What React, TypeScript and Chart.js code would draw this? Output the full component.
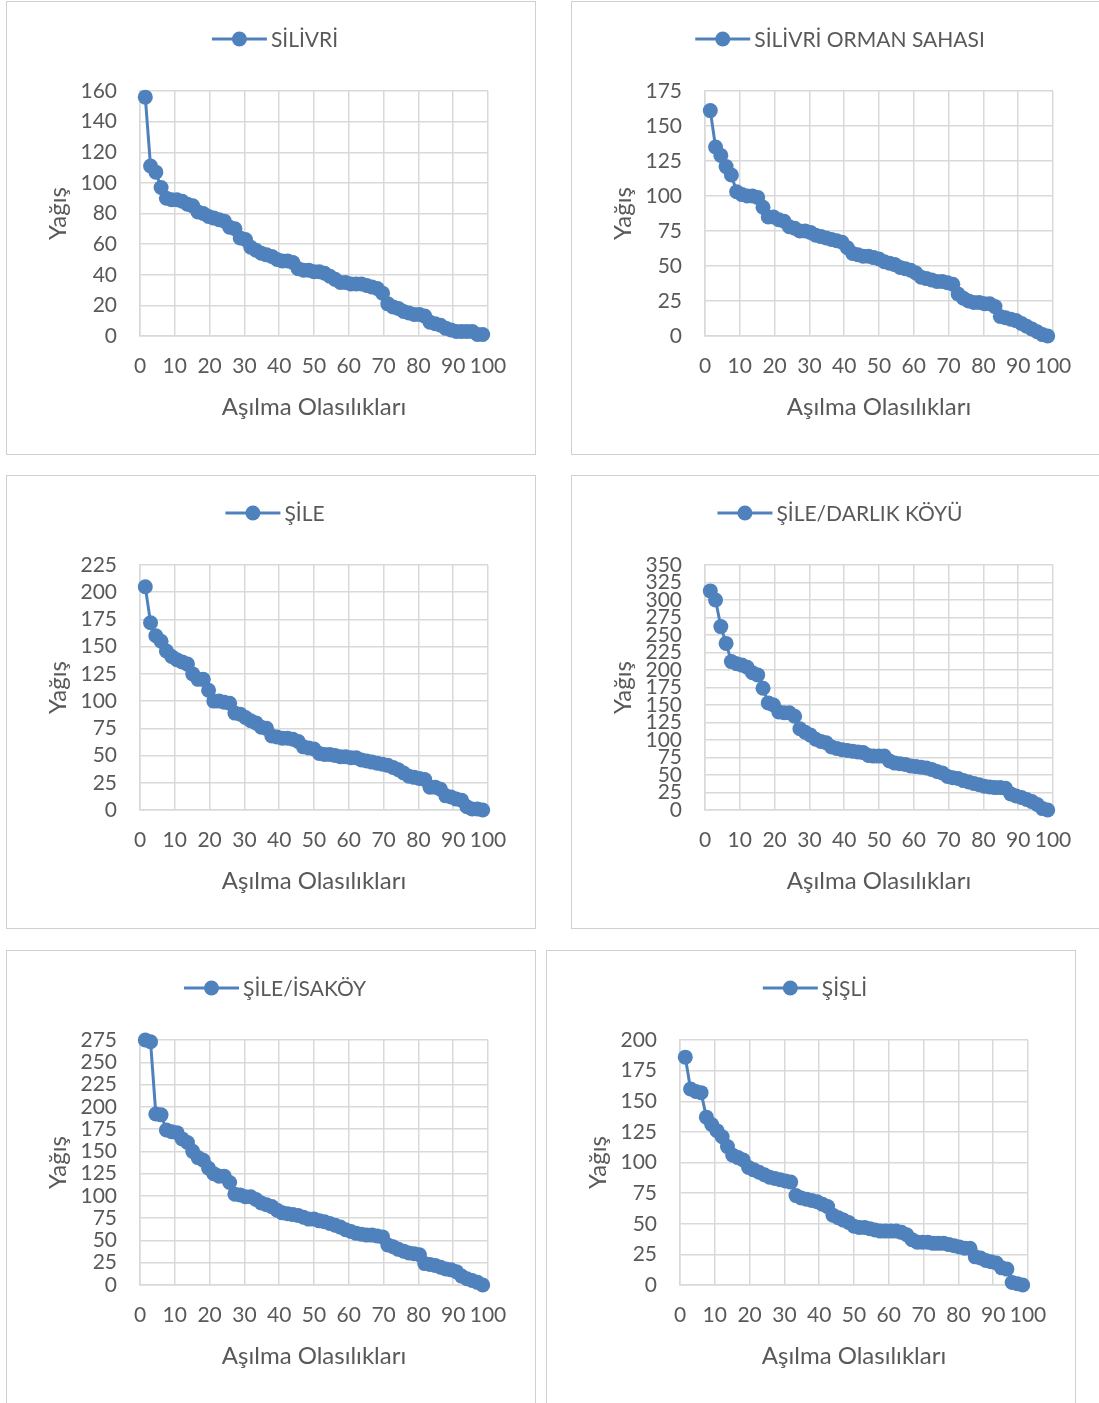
import React, { useEffect, useRef } from "react";
import { Chart, registerables } from "chart.js";

Chart.register(...registerables);

// Exceedance probabilities (%) shared by every station, rank / (n + 1)
const exceedance = [
  1.52, 3.03, 4.55, 6.06, 7.58, 9.09, 10.61, 12.12, 13.64, 15.15,
  16.67, 18.18, 19.7, 21.21, 22.73, 24.24, 25.76, 27.27, 28.79, 30.3,
  31.82, 33.33, 34.85, 36.36, 37.88, 39.39, 40.91, 42.42, 43.94, 45.45,
  46.97, 48.48, 50.0, 51.52, 53.03, 54.55, 56.06, 57.58, 59.09, 60.61,
  62.12, 63.64, 65.15, 66.67, 68.18, 69.7, 71.21, 72.73, 74.24, 75.76,
  77.27, 78.79, 80.3, 81.82, 83.33, 84.85, 86.36, 87.88, 89.39, 90.91,
  92.42, 93.94, 95.45, 96.97, 98.48,
];

// Rainfall (mm) sorted from largest to smallest, one array per station
const silivri = [
  156, 111, 107, 97, 90, 89, 89, 88, 86, 85,
  81, 80, 78, 77, 76, 75, 71, 70, 64, 63,
  58, 56, 54, 53, 52, 50, 49, 49, 48, 44,
  43, 43, 42, 42, 41, 39, 37, 35, 35, 34,
  34, 34, 33, 32, 31, 28, 21, 19, 18, 16,
  15, 14, 14, 13, 9, 8, 7, 5, 4, 3,
  3, 3, 3, 1, 1,
];
const silivriOrman = [
  161, 135, 129, 121, 115, 103, 101, 100, 100, 99,
  92, 85, 85, 83, 82, 78, 77, 75, 75, 74,
  72, 71, 70, 69, 68, 67, 63, 59, 58, 57,
  57, 56, 55, 53, 52, 51, 49, 48, 47, 45,
  42, 41, 40, 39, 39, 38, 37, 30, 27, 25,
  24, 24, 23, 23, 21, 14, 13, 12, 11, 9,
  7, 5, 3, 1, 0,
];
const sile = [
  205, 172, 160, 155, 146, 141, 138, 136, 134, 125,
  120, 120, 110, 100, 100, 99, 98, 89, 88, 85,
  82, 80, 76, 75, 68, 67, 66, 66, 65, 63,
  58, 57, 56, 52, 51, 51, 50, 49, 49, 48,
  48, 46, 45, 44, 43, 42, 41, 39, 37, 34,
  31, 30, 29, 28, 21, 21, 19, 13, 12, 10,
  9, 3, 1, 1, 0,
];
const sileDarlik = [
  313, 300, 262, 238, 212, 209, 207, 204, 196, 193,
  174, 153, 150, 140, 139, 139, 134, 116, 111, 107,
  101, 98, 96, 90, 88, 86, 85, 84, 83, 82,
  78, 77, 77, 77, 70, 67, 66, 65, 63, 62,
  61, 60, 58, 55, 53, 48, 46, 45, 42, 40,
  38, 36, 34, 33, 32, 32, 31, 23, 20, 18,
  15, 12, 8, 2, 0,
];
const sileIsakoy = [
  275, 273, 192, 191, 174, 172, 171, 164, 160, 150,
  143, 140, 131, 125, 122, 122, 115, 102, 101, 99,
  99, 96, 92, 90, 88, 84, 81, 80, 79, 78,
  76, 74, 74, 72, 71, 69, 67, 65, 62, 60,
  58, 57, 56, 56, 55, 54, 45, 43, 40, 38,
  36, 35, 34, 24, 23, 22, 20, 18, 17, 15,
  10, 7, 5, 3, 0,
];
const sisli = [
  186, 160, 158, 157, 137, 131, 126, 121, 113, 106,
  104, 102, 96, 94, 92, 90, 88, 87, 86, 85,
  84, 73, 71, 70, 69, 68, 66, 64, 57, 55,
  53, 51, 48, 47, 47, 46, 45, 44, 44, 44,
  44, 43, 41, 37, 35, 35, 35, 34, 34, 34,
  33, 32, 31, 30, 30, 23, 22, 20, 19, 18,
  14, 13, 2, 1, 0,
];

const X_TITLE = "Aşılma Olasılıkları";
const Y_TITLE = "Yağış";

const FONT_FAMILY = "Lato, 'Open Sans', sans-serif";
const TEXT_COLOR = "#595959";
const GRID_COLOR = "#d9d9d9";
const SERIES_COLOR = "#4f81bd";

const PANEL_W = 530;
const PANEL_H = 454;

type PanelProps = {
  title: string;
  values: number[];
  yMax: number;
  yStep: number;
  left: number;
  top: number;
};

function StationPanel({ title, values, yMax, yStep, left, top }: PanelProps) {
  const ref = useRef<HTMLCanvasElement | null>(null);

  useEffect(() => {
    if (!ref.current) return;
    const canvasH = PANEL_H - 2;

    // Legend drawn as a short line with a centred marker, followed by the station name
    const legendPlugin = {
      id: "lineMarkerLegend",
      afterDraw(chart: Chart) {
        const ctx = chart.ctx;
        ctx.save();
        ctx.font = `21px ${FONT_FAMILY}`;
        const tw = ctx.measureText(title).width;
        const lineLen = 55;
        const gap = 4;
        const total = lineLen + gap + tw;
        const x0 = (chart.width - total) / 2 + 4;
        const y = 37;
        ctx.strokeStyle = SERIES_COLOR;
        ctx.lineWidth = 3;
        ctx.beginPath();
        ctx.moveTo(x0, y);
        ctx.lineTo(x0 + lineLen, y);
        ctx.stroke();
        ctx.fillStyle = SERIES_COLOR;
        ctx.beginPath();
        ctx.arc(x0 + lineLen / 2, y, 7.5, 0, Math.PI * 2);
        ctx.fill();
        ctx.fillStyle = TEXT_COLOR;
        ctx.textBaseline = "middle";
        ctx.textAlign = "left";
        ctx.fillText(title, x0 + lineLen + gap, y + 1);
        ctx.restore();
      },
    };

    const chart = new Chart(ref.current, {
      type: "line",
      data: {
        datasets: [
          {
            label: title,
            data: values.map((v, i) => ({ x: exceedance[i], y: v })),
            borderColor: SERIES_COLOR,
            backgroundColor: SERIES_COLOR,
            borderWidth: 3,
            pointRadius: 7.5,
            pointBorderWidth: 0,
            pointBackgroundColor: SERIES_COLOR,
            tension: 0,
            clip: false,
          },
        ],
      },
      options: {
        responsive: false,
        animation: false,
        layout: { padding: { top: 89, right: 47, left: 0, bottom: 0 } },
        plugins: {
          legend: { display: false },
          tooltip: { enabled: false },
        },
        scales: {
          x: {
            type: "linear",
            min: 0,
            max: 100,
            grid: { color: GRID_COLOR, lineWidth: 1.5, drawTicks: false },
            border: { color: GRID_COLOR, width: 1.5 },
            ticks: {
              stepSize: 10,
              autoSkip: false,
              maxRotation: 0,
              padding: 18,
              color: TEXT_COLOR,
              font: { family: FONT_FAMILY, size: 21 },
            },
            title: {
              display: true,
              text: X_TITLE,
              color: TEXT_COLOR,
              font: { family: FONT_FAMILY, size: 24 },
              padding: { top: 0, bottom: 32 },
            },
            afterFit: (scale: any) => {
              scale.height = canvasH - 334;
            },
          },
          y: {
            type: "linear",
            min: 0,
            max: yMax,
            grid: { color: GRID_COLOR, lineWidth: 1.5, drawTicks: false },
            border: { color: GRID_COLOR, width: 1.5 },
            ticks: {
              stepSize: yStep,
              autoSkip: false,
              padding: 23,
              color: TEXT_COLOR,
              font: { family: FONT_FAMILY, size: 21 },
            },
            title: {
              display: true,
              text: Y_TITLE,
              color: TEXT_COLOR,
              font: { family: FONT_FAMILY, size: 24 },
              padding: { top: 37, bottom: 0 },
            },
            afterFit: (scale: any) => {
              scale.width = 133;
            },
          },
        },
      },
      plugins: [legendPlugin],
    });
    return () => chart.destroy();
  }, [title, values, yMax, yStep]);

  return (
    <div
      style={{
        position: "absolute",
        left,
        top,
        width: PANEL_W,
        height: PANEL_H,
        border: "1px solid #d0d0d0",
        boxSizing: "border-box",
        background: "#ffffff",
      }}
    >
      <canvas ref={ref} width={PANEL_W - 2} height={PANEL_H - 2} style={{ display: "block" }} />
    </div>
  );
}

export default function App() {
  return (
    <div
      style={{
        position: "absolute",
        left: 0,
        top: 0,
        width: 1099,
        height: 1403,
        overflow: "hidden",
        background: "#ffffff",
      }}
    >
      <StationPanel title="SİLİVRİ" values={silivri} yMax={160} yStep={20} left={6} top={1} />
      <StationPanel title="SİLİVRİ ORMAN SAHASI" values={silivriOrman} yMax={175} yStep={25} left={571} top={1} />
      <StationPanel title="ŞİLE" values={sile} yMax={225} yStep={25} left={6} top={475} />
      <StationPanel title="ŞİLE/DARLIK KÖYÜ" values={sileDarlik} yMax={350} yStep={25} left={571} top={475} />
      <StationPanel title="ŞİLE/İSAKÖY" values={sileIsakoy} yMax={275} yStep={25} left={6} top={950} />
      <StationPanel title="ŞİŞLİ" values={sisli} yMax={200} yStep={25} left={546} top={950} />
    </div>
  );
}
